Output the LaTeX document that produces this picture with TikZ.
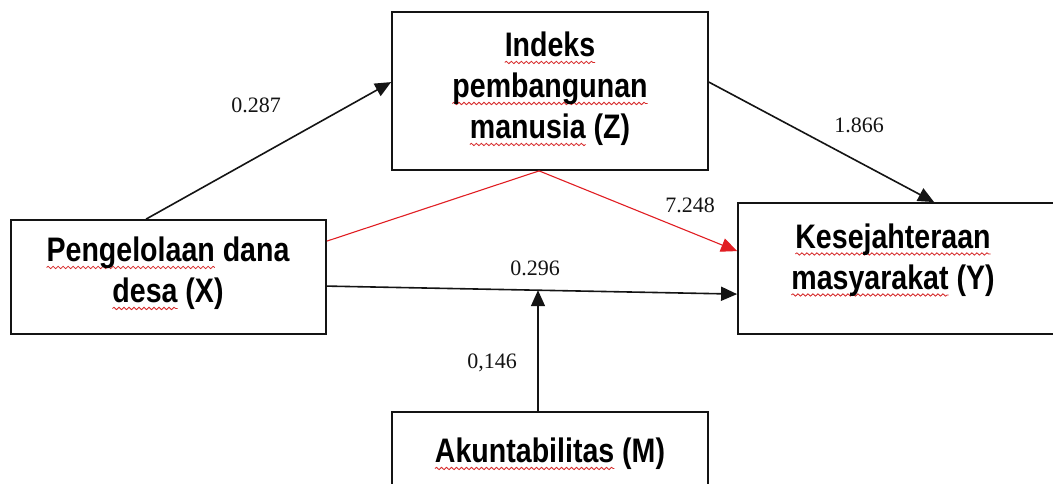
\documentclass[tikz,border=0pt]{standalone}
\usepackage{fontspec}
\usetikzlibrary{arrows.meta,calc,decorations.pathmorphing}
\newfontfamily\boxfont{Liberation Sans}[FakeStretch=0.84]
\newfontfamily\numfont{Liberation Serif}
\definecolor{spellred}{RGB}{215,40,40}
\definecolor{pathred}{RGB}{225,30,35}
\definecolor{ink}{RGB}{20,20,20}
\newsavebox\wavybox
\newlength\wavywd
\newcommand\wavy[1]{\sbox\wavybox{#1}\setlength\wavywd{\wd\wavybox}%
  \rlap{\tikz[overlay,baseline=0pt]\draw[spellred,line width=0.8pt,decorate,decoration={snake,amplitude=1.2pt,segment length=5pt}] (0pt,-5.5pt) -- (\wavywd,-5.5pt);}%
  \usebox\wavybox}
\tikzset{
  box/.style={draw=ink, line width=1.8pt, inner sep=0pt, rectangle},
  boxtext/.style={align=center, inner sep=0pt, font=\boxfont\bfseries\fontsize{34}{41}\selectfont, text=black},
  num/.style={anchor=base, inner sep=0pt, font=\numfont\fontsize{22}{24}\selectfont, text=ink},
  arr/.style={draw=ink, line width=1.6pt, -{Triangle[length=16pt,width=14pt]}},
  redarr/.style={draw=pathred, line width=1.1pt, -{Triangle[length=16pt,width=14pt]}},
  redline/.style={draw=pathred, line width=1.1pt},
}
\begin{document}
\begin{tikzpicture}[x=1pt,y=-1pt]
\useasboundingbox (0,0) rectangle (1053,484);
\clip (0,0) rectangle (1053,484);
\fill[white] (0,0) rectangle (1053,484);
% boxes
\node[box, minimum width=315pt, minimum height=114pt] (X) at (168.5,277) {};
\node[box, minimum width=316pt, minimum height=158pt] (Z) at (550,91) {};
\node[box, minimum width=332pt, minimum height=131pt] (Y) at (904,268.5) {};
\node[box, minimum width=316pt, minimum height=84pt] (M) at (550,454) {};
% box texts
\node[boxtext] (XT) at (168,273.7) {\wavy{Pengelolaan} dana\\\wavy{desa} (X)};
\node[boxtext] (ZT) at (550,89.2) {\wavy{Indeks}\\\wavy{pembangunan}\\\wavy{manusia} (Z)};
\node[boxtext] (YT) at (893,260.2) {\wavy{Kesejahteraan}\\\wavy{masyarakat} (Y)};
\node[boxtext] (MT) at (550,454.2) {\wavy{Akuntabilitas} (M)};
% connectors
\draw[arr] ([xshift=136pt]X.north west) -- ([yshift=-71pt]Z.north west);
\draw[arr] ([yshift=-71pt]Z.north east) -- ([xshift=197pt]Y.north west);
\coordinate (apex) at ([xshift=148pt]Z.south west);
\draw[redline] ([yshift=-22pt]X.north east) -- (apex);
\draw[redarr] (apex) -- ([yshift=-49pt]Y.north west);
\draw[arr] ([yshift=-67pt]X.north east) -- coordinate[pos=0.5146] (j) ([yshift=-92pt]Y.north west);
\draw[arr] (j |- M.north) -- (j);
% labels
\node[num] (l1) at (256,113) {0.287};
\node[num] (l2) at (859,133) {1.866};
\node[num] (l3) at (690,213) {7.248};
\node[num] (l4) at (535,275) {0.296};
\node[num] (l5) at (492,368) {0,146};
\end{tikzpicture}
\end{document}
